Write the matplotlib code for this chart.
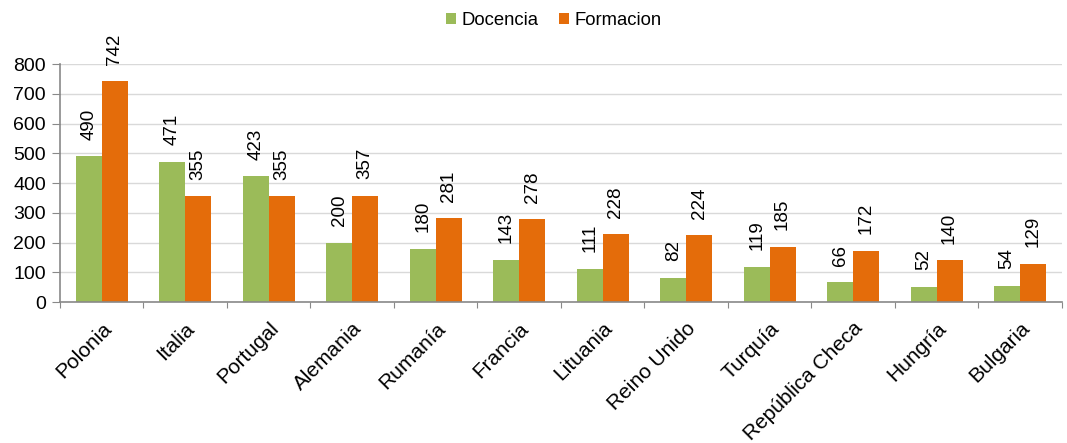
import numpy as np
import matplotlib
matplotlib.use("Agg")
import matplotlib.pyplot as plt

plt.rcParams['font.family'] = ['Liberation Sans', 'DejaVu Sans']

paises = ['Polonia', 'Italia', 'Portugal', 'Alemania', 'Rumanía', 'Francia',
          'Lituania', 'Reino Unido', 'Turquía', 'República Checa', 'Hungría', 'Bulgaria']
docencia = [490, 471, 423, 200, 180, 143, 111, 82, 119, 66, 52, 54]
formacion = [742, 355, 355, 357, 281, 278, 228, 224, 185, 172, 140, 129]
yticks = [0, 100, 200, 300, 400, 500, 600, 700, 800]

verde = '#9BBB59'
naranja = '#E46C0A'
gris = '#898989'

fig = plt.figure(figsize=(10.67, 4.43), dpi=100)
ax = fig.add_axes([0.0562, 0.318, 0.939, 0.5375])

x = np.arange(len(paises))
w = 0.31
b1 = ax.bar(x - w / 2, docencia, w, color=verde, label='Docencia')
b2 = ax.bar(x + w / 2, formacion, w, color=naranja, label='Formacion')

for bars, vals in ((b1, docencia), (b2, formacion)):
    for rect, v in zip(bars, vals):
        ax.annotate(str(v), (rect.get_x() + rect.get_width() / 2, rect.get_height()),
                    xytext=(0, 12), textcoords='offset points', rotation=90,
                    ha='center', va='bottom', fontsize=13.5, clip_on=False)

ax.set_xlim(-0.5, len(paises) - 0.5)
ax.set_ylim(0, 800)
ax.set_yticks(yticks)
ax.tick_params(axis='y', labelsize=14, length=6, color=gris, pad=4)
ax.yaxis.grid(True, color='#d9d9d9', linewidth=1)
ax.set_axisbelow(True)

# ticks between groups, labels at group centres
ax.set_xticks(np.arange(len(paises) + 1) - 0.5)
ax.set_xticklabels([])
ax.set_xticks(x, minor=True)
ax.set_xticklabels(paises, minor=True, rotation=45, ha='right',
                   rotation_mode='anchor', fontsize=15)
ax.tick_params(axis='x', which='major', length=4, color=gris)
ax.tick_params(axis='x', which='minor', length=0, pad=12)

for s in ('top', 'right'):
    ax.spines[s].set_visible(False)
for s in ('left', 'bottom'):
    ax.spines[s].set_color(gris)
    ax.spines[s].set_linewidth(1.2)

fig.legend(loc='upper center', bbox_to_anchor=(0.519, 1.01), ncol=2, frameon=False,
           fontsize=13.3, handlelength=0.55, handleheight=0.55, handletextpad=0.3,
           columnspacing=1.1)

fig.savefig('out.png', dpi=100)
